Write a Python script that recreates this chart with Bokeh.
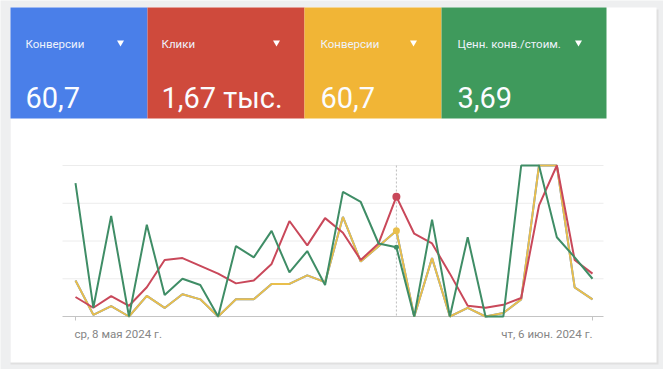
import pandas as pd
from bokeh.plotting import figure
from bokeh.models import Range1d, ColumnDataSource
from bokeh.core.properties import value
from bokeh.embed import file_html
from bokeh.resources import INLINE

# ---- data ----
dates = pd.date_range("2024-05-08", periods=30, freq="D")
conversions = [2.1, 0.1, 0.6, 0, 1.2, 0.5, 1.3, 1.0, 0, 1.0, 1.0, 1.9, 1.9, 2.4, 2.0,
               5.8, 3.2, 4.1, 5.0, 0, 3.4, 0, 0.5, 0, 0.2, 1.0, 8.8, 8.8, 1.7, 1.0]
clicks = [20, 9, 21, 11, 30, 58, 60, 52, 44, 34, 37, 54, 98, 73, 101,
          86, 58, 75, 123, 85, 75, 44, 11, 9, 12, 19, 114, 155, 58, 44]
value_per_cost = [10.6, 0.7, 8.0, 0, 7.3, 1.7, 3.0, 2.5, 0, 5.6, 4.7, 6.8, 3.5, 5.2, 2.5,
                  9.9, 9.1, 5.8, 5.5, 0, 7.7, 0, 6.3, 0, 0, 12.0, 12.0, 6.3, 4.7, 3.0]
tile_names = ["Конверсии", "Клики", "Конверсии", "Ценн. конв./стоим."]
tile_values = ["60,7", "1,67 тыс.", "60,7", "3,69"]
date_labels = ["ср, 8 мая 2024 г.", "чт, 6 июн. 2024 г."]
hover_index = 18

# ---- layout (page pixel coordinates) ----
W, H = 663, 369
X0, X1, Y_TOP, Y_BOT = 0, W, 0, H
PLOT_L, PLOT_R = 75, 592          # first/last day
BASE_Y, TOP_Y = 316, 165          # zero line / top gridline
FONT = value("Roboto")

p = figure(width=W, height=H, output_backend="svg", toolbar_location=None,
           x_range=Range1d(X0, X1), y_range=Range1d(Y_BOT, Y_TOP),
           min_border=0, min_border_left=0, min_border_right=0,
           min_border_top=0, min_border_bottom=0)
p.axis.visible = False
p.grid.visible = False
p.outline_line_color = None
p.background_fill_color = "#eeeff0"
p.border_fill_color = "#eeeff0"

# card with soft shadow
p.quad(left=[10], right=[658], top=[9], bottom=[364], fill_color="#dcdcdc",
       line_color=None, fill_alpha=0.8)
p.quad(left=[10], right=[656], top=[7], bottom=[362], fill_color="white", line_color=None)

# date x range mapped so first day -> PLOT_L, last day -> PLOT_R
day_px = (PLOT_R - PLOT_L) / (len(dates) - 1)
d_start = dates[0] - pd.Timedelta(days=(PLOT_L - X0) / day_px)
d_end = dates[-1] + pd.Timedelta(days=(X1 - PLOT_R) / day_px)
p.extra_x_ranges = {"d": Range1d(d_start, d_end)}

def series_range(vals):
    m = max(vals)
    span = BASE_Y - TOP_Y
    return Range1d(-(Y_BOT - BASE_Y) * m / span, (BASE_Y - Y_TOP) * m / span)

p.extra_y_ranges = {
    "conv": series_range(conversions),
    "clk": series_range(clicks),
    "vpc": series_range(value_per_cost),
}

# ---- tiles ----
tile_left = [10, 147, 304, 441]
tile_right = [147, 304, 441, 606]
tile_colors = ["#4a7fe9", "#cf4a3c", "#f1b536", "#3f9a5c"]
p.quad(left=tile_left, right=tile_right, top=[7] * 4, bottom=[118] * 4,
       fill_color=tile_colors, line_color=None)
lab_x = [25, 161, 320, 457]
tri_x = [120, 276, 413, 578]
p.text(x=lab_x, y=[43] * 4, text=tile_names, text_font=FONT, text_font_size="11.5px",
       text_color="#eef2fb", text_baseline="middle", text_align="left")
p.scatter(x=tri_x, y=[42] * 4, marker="inverted_triangle", size=7,
          fill_color="white", line_color=None)
p.text(x=[25, 161, 320, 457], y=[97] * 4, text=tile_values, text_font=FONT,
       text_font_size="29px", text_color="#fbfcff", text_baseline="alphabetic",
       text_align="left")

# ---- grid ----
grid_ys = [TOP_Y + k * (BASE_Y - TOP_Y) / 4 for k in range(4)]
p.segment(x0=[62] * 4, x1=[603] * 4, y0=grid_ys, y1=grid_ys,
          line_color="#ececec", line_width=1)
p.segment(x0=[62], x1=[603], y0=[BASE_Y], y1=[BASE_Y], line_color="#c4c4c4", line_width=1)
p.segment(x0=[dates[0], dates[-1]], x1=[dates[0], dates[-1]], y0=[BASE_Y] * 2,
          y1=[BASE_Y + 4] * 2, line_color="#c4c4c4", line_width=1, x_range_name="d")

# hover line
p.segment(x0=[dates[hover_index]], x1=[dates[hover_index]], y0=[TOP_Y], y1=[BASE_Y],
          line_color="#bdbdbd", line_width=1, line_dash="2 2", x_range_name="d")

# ---- series ----
src = ColumnDataSource(dict(d=dates, conv=conversions, clk=clicks, vpc=value_per_cost))
p.line("d", "conv", source=src, x_range_name="d", y_range_name="conv",
       line_color="#4285f4", line_width=2)
p.line("d", "conv", source=src, x_range_name="d", y_range_name="conv",
       line_color="#e9bf4c", line_width=2)
p.line("d", "clk", source=src, x_range_name="d", y_range_name="clk",
       line_color="#c9485a", line_width=2)
p.line("d", "vpc", source=src, x_range_name="d", y_range_name="vpc",
       line_color="#3f8d66", line_width=2)

hd = [dates[hover_index]]
p.scatter(hd, [value_per_cost[hover_index]], x_range_name="d", y_range_name="vpc",
          size=5, fill_color="#3f8d66", line_color=None)
p.scatter(hd, [conversions[hover_index]], x_range_name="d", y_range_name="conv",
          size=7, fill_color="#e9bf4c", line_color=None)
p.scatter(hd, [clicks[hover_index]], x_range_name="d", y_range_name="clk",
          size=8, fill_color="#c9485a", line_color=None)

# ---- date labels ----
p.text(x=[dates[0]], y=[333], text=[date_labels[0]], x_range_name="d", text_font=FONT,
       text_font_size="11.5px", text_color="#858585", text_baseline="middle",
       text_align="left", x_offset=-1)
p.text(x=[dates[-1]], y=[333], text=[date_labels[1]], x_range_name="d", text_font=FONT,
       text_font_size="11.5px", text_color="#858585", text_baseline="middle",
       text_align="right")

open("out.html", "w").write(file_html(p, INLINE))
